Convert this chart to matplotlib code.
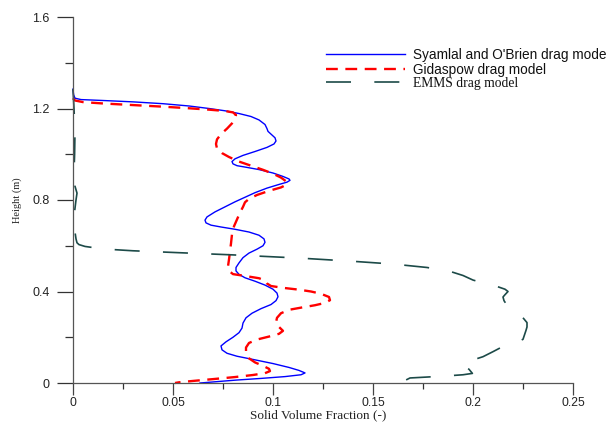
import matplotlib
matplotlib.use("Agg")
import matplotlib.pyplot as plt
from matplotlib.ticker import MultipleLocator

# ---------------- data ----------------
syamlal_x = [0.000, 0.0003, 0.001, 0.004, 0.015, 0.030, 0.045, 0.058, 0.068, 0.076, 0.083,
             0.089, 0.093, 0.096, 0.097, 0.0975, 0.099, 0.101, 0.1015, 0.1005, 0.097, 0.091,
             0.085, 0.081, 0.0795, 0.080, 0.082, 0.086, 0.093, 0.100, 0.105, 0.108, 0.1085,
             0.107, 0.103, 0.097, 0.091, 0.086, 0.081, 0.076, 0.071, 0.067, 0.066, 0.0665,
             0.069, 0.074, 0.081, 0.088, 0.093, 0.0955, 0.096, 0.095, 0.092, 0.088, 0.085,
             0.083, 0.0815, 0.0815, 0.083, 0.086, 0.091, 0.096, 0.100, 0.102, 0.1025, 0.1015,
             0.099, 0.094, 0.0895, 0.0865, 0.085, 0.0845, 0.083, 0.080, 0.0765, 0.074, 0.0745,
             0.077, 0.082, 0.090, 0.100, 0.108, 0.113, 0.116, 0.114, 0.106, 0.094, 0.082,
             0.072, 0.065, 0.0635]
syamlal_y = [1.285, 1.260, 1.245, 1.239, 1.235, 1.229, 1.221, 1.211, 1.200, 1.190, 1.178,
             1.165, 1.150, 1.130, 1.112, 1.100, 1.088, 1.072, 1.058, 1.045, 1.030, 1.012,
             0.995, 0.980, 0.968, 0.958, 0.950, 0.944, 0.933, 0.918, 0.903, 0.892, 0.886,
             0.878, 0.868, 0.852, 0.832, 0.812, 0.792, 0.770, 0.748, 0.726, 0.712, 0.700,
             0.690, 0.682, 0.672, 0.660, 0.646, 0.630, 0.615, 0.600, 0.585, 0.568, 0.548,
             0.525, 0.505, 0.490, 0.475, 0.460, 0.445, 0.428, 0.410, 0.393, 0.377, 0.360,
             0.343, 0.325, 0.305, 0.285, 0.262, 0.240, 0.220, 0.200, 0.180, 0.162, 0.145,
             0.130, 0.117, 0.103, 0.085, 0.068, 0.055, 0.044, 0.036, 0.028, 0.020, 0.013,
             0.006, 0.001, 0.000]

gidaspow_x = [0.000, 0.001, 0.005, 0.015, 0.030, 0.045, 0.058, 0.068, 0.076, 0.080, 0.0815,
              0.081, 0.0795, 0.077, 0.074, 0.072, 0.0715, 0.072, 0.0745, 0.078, 0.083, 0.089,
              0.095, 0.100, 0.104, 0.1065, 0.107, 0.104, 0.098, 0.092, 0.088, 0.086, 0.085,
              0.0835, 0.082, 0.0805, 0.0795, 0.079, 0.0785, 0.078, 0.0775, 0.078, 0.080, 0.086,
              0.093, 0.096, 0.097, 0.099, 0.105, 0.113, 0.119, 0.124, 0.128, 0.1285, 0.126,
              0.121, 0.115, 0.108, 0.104, 0.102, 0.1015, 0.103, 0.105, 0.103, 0.098, 0.092,
              0.088, 0.0865, 0.0865, 0.088, 0.091, 0.095, 0.098, 0.0985, 0.096, 0.090, 0.081,
              0.070, 0.060, 0.053, 0.051]
gidaspow_y = [1.245, 1.235, 1.228, 1.222, 1.215, 1.208, 1.201, 1.195, 1.189, 1.183, 1.172,
              1.155, 1.135, 1.112, 1.088, 1.065, 1.045, 1.025, 1.005, 0.988, 0.968, 0.950,
              0.932, 0.915, 0.898, 0.882, 0.868, 0.855, 0.840, 0.822, 0.805, 0.790, 0.770,
              0.745, 0.715, 0.685, 0.650, 0.610, 0.575, 0.540, 0.510, 0.490, 0.476, 0.468,
              0.458, 0.448, 0.435, 0.424, 0.416, 0.408, 0.400, 0.390, 0.376, 0.362, 0.350,
              0.340, 0.331, 0.320, 0.305, 0.285, 0.265, 0.245, 0.228, 0.215, 0.203, 0.190,
              0.175, 0.155, 0.130, 0.108, 0.090, 0.075, 0.062, 0.052, 0.043, 0.035, 0.026,
              0.017, 0.009, 0.003, 0.000]

emms_x = [0.000, 0.0005, 0.001, 0.0008, 0.0005, 0.001, 0.002, 0.0015, 0.0008, 0.0008, 0.001,
          0.0015, 0.002, 0.003, 0.006, 0.015, 0.030, 0.052, 0.080, 0.1135, 0.140, 0.160,
          0.177, 0.1885, 0.195, 0.200, 0.207, 0.212, 0.216, 0.2175, 0.216, 0.215, 0.2155,
          0.217, 0.219, 0.222, 0.225, 0.227, 0.227, 0.2265, 0.225, 0.221, 0.2148, 0.210,
          0.205, 0.199, 0.1947, 0.196, 0.198, 0.1997, 0.195, 0.1868, 0.177, 0.1685, 0.166,
          0.1685]
emms_y = [1.285, 1.200, 1.100, 1.000, 0.920, 0.860, 0.830, 0.800, 0.750, 0.700, 0.660,
          0.630, 0.613, 0.605, 0.597, 0.586, 0.578, 0.570, 0.560, 0.546, 0.532, 0.520,
          0.505, 0.488, 0.470, 0.450, 0.433, 0.422, 0.410, 0.400, 0.386, 0.376, 0.360,
          0.340, 0.323, 0.305, 0.285, 0.264, 0.245, 0.230, 0.191, 0.175, 0.159, 0.137,
          0.115, 0.098, 0.084, 0.072, 0.060, 0.042, 0.036, 0.031, 0.026, 0.022, 0.011,
          0.004]

labels = ["Syamlal and O'Brien drag mode", "Gidaspow drag model", "EMMS drag model"]
x_ticks = [0, 0.05, 0.1, 0.15, 0.2, 0.25]
x_tick_labels = ["0", "0.05", "0.1", "0.15", "0.2", "0.25"]
y_ticks = [0, 0.4, 0.8, 1.2, 1.6]
y_tick_labels = ["0", "0.4", "0.8", "1.2", "1.6"]

# ---------------- figure ----------------
fig = plt.figure(figsize=(6.1, 4.23), dpi=100)
ax = fig.add_axes([73 / 610, 1 - 383 / 423, 500 / 610, 366 / 423])

l1, = ax.plot(syamlal_x, syamlal_y, color="#0000ff", lw=1.0, clip_on=False, label=labels[0])
l2, = ax.plot(gidaspow_x, gidaspow_y, color="#ff0000", lw=1.7, dashes=(5.0, 3.2),
              clip_on=False, label=labels[1])
l3, = ax.plot(emms_x, emms_y, color="#1c4a48", lw=1.2, dashes=(15, 14),
              clip_on=False, label=labels[2])

ax.set_xlim(0, 0.25)
ax.set_ylim(0, 1.6)
ax.set_xticks(x_ticks)
ax.set_xticklabels(x_tick_labels)
ax.set_yticks(y_ticks)
ax.set_yticklabels(y_tick_labels)
ax.xaxis.set_minor_locator(MultipleLocator(0.025))
ax.yaxis.set_minor_locator(MultipleLocator(0.2))

for s in ("top", "right"):
    ax.spines[s].set_visible(False)
for s in ("left", "bottom"):
    ax.spines[s].set_color("#555555")
    ax.spines[s].set_linewidth(0.9)

ax.tick_params(axis="y", which="major", length=11.5, width=0.9, color="#333333", pad=5.5,
               labelsize=9, labelcolor="#222222")
ax.tick_params(axis="y", which="minor", length=5.8, width=0.9, color="#333333")
ax.tick_params(axis="x", which="major", length=8.6, width=0.9, color="#444444", pad=1.5,
               labelsize=8.7, labelcolor="#222222")
ax.tick_params(axis="x", which="minor", length=4.3, width=0.9, color="#333333")
for t in ax.get_xticklabels() + ax.get_yticklabels():
    t.set_fontfamily("Liberation Sans")

ax.set_xlabel("Solid Volume Fraction (-)", family="Liberation Serif", fontsize=9.5, color="#222222")
ax.xaxis.set_label_coords(0.49, -0.0715)
ax.set_ylabel("Height (m)", family="Liberation Serif", fontsize=7.5, color="#222222")
ax.yaxis.set_label_coords(-0.102, 0.5)

leg = ax.legend(handles=[l1, l2, l3], loc="upper left",
                bbox_to_anchor=(326 / 610, 1 - 48 / 423), bbox_transform=fig.transFigure,
                frameon=False, borderpad=0, borderaxespad=0, handlelength=5.8,
                handletextpad=0.6, labelspacing=0.04,
                prop={"family": "Liberation Sans", "size": 9.8})
leg.get_texts()[2].set_fontfamily("Liberation Serif")
for t in leg.get_texts():
    t.set_color("#111111")

fig.savefig("out.png", dpi=100)
